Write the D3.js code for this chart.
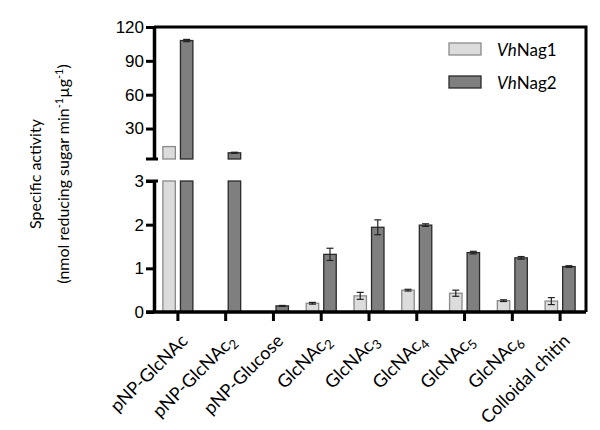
<!DOCTYPE html>
<html>
<head>
<meta charset="utf-8">
<script src="https://cdn.jsdelivr.net/npm/d3@7"></script>
<style>
  body { margin: 0; background: #fff; }
  .tick text { font-family: "Liberation Sans", Arial, sans-serif; }
</style>
</head>
<body>
<div class="chart"></div>
<script>
// substrates, with subscript part split out
var substrates = ["pNP-GlcNAc", "pNP-GlcNAc2", "pNP-Glucose", "GlcNAc2", "GlcNAc3",
                  "GlcNAc4", "GlcNAc5", "GlcNAc6", "Colloidal chitin"];
var labelMain = ["pNP-GlcNAc", "pNP-GlcNAc", "pNP-Glucose", "GlcNAc", "GlcNAc",
                 "GlcNAc", "GlcNAc", "GlcNAc", "Colloidal chitin"];
var labelSub = ["", "2", "", "2", "3", "4", "5", "6", ""];

var series = ["VhNag1", "VhNag2"];
var nag1 = [14, 0, 0, 0.2, 0.37, 0.5, 0.43, 0.26, 0.25];
var nag1Err = [0, 0, 0, 0.02, 0.08, 0.02, 0.07, 0.02, 0.08];
var nag2 = [108, 8.5, 0.14, 1.32, 1.94, 1.99, 1.36, 1.24, 1.04];
var nag2Err = [1, 0.5, 0.01, 0.14, 0.17, 0.03, 0.03, 0.03, 0.02];

var upperTicks = [30, 60, 90, 120];
var lowerTicks = [0, 1, 2, 3];

var width = 600, height = 430;
var plotLeft = 154, plotRight = 586, plotTop = 27;

var data = substrates.map(function(s, i) {
    return {name: s, values: [
        {key: "VhNag1", v: nag1[i], e: nag1Err[i]},
        {key: "VhNag2", v: nag2[i], e: nag2Err[i]}
    ]};
});

var x = d3.scaleBand()
    .domain(substrates)
    .range([plotLeft, 584]);

var x1 = d3.scaleBand()
    .domain(series)
    .range([-15, 15])
    .paddingInner(0.29);

var yUp = d3.scaleLinear().domain([3, 120]).range([159, plotTop]);
var yLo = d3.scaleLinear().domain([0, 3]).range([312, 181]);

var fill = d3.scaleOrdinal().domain(series).range(["#dcdcdc", "#7f7f7f"]);
var stroke = d3.scaleOrdinal().domain(series).range(["#8a8a8a", "#2a2a2a"]);

var svg = d3.select(".chart").append("svg")
    .attr("width", width)
    .attr("height", height);

var groups = svg.append("g").selectAll("g")
    .data(data)
    .enter().append("g")
    .attr("transform", function(d) { return "translate(" + (x(d.name) + x.bandwidth() / 2) + ",0)"; });

var bars = groups.selectAll("g")
    .data(function(d) { return d.values; })
    .enter().append("g");

// lower panel part
bars.filter(function(d) { return d.v > 0; })
    .append("rect")
    .attr("x", function(d) { return x1(d.key); })
    .attr("width", x1.bandwidth())
    .attr("y", function(d) { return yLo(Math.min(d.v, 3)); })
    .attr("height", function(d) { return yLo(0) - yLo(Math.min(d.v, 3)); })
    .attr("fill", function(d) { return fill(d.key); })
    .attr("stroke", function(d) { return stroke(d.key); })
    .attr("stroke-width", 1.3);

// upper panel part
bars.filter(function(d) { return d.v > 3; })
    .append("rect")
    .attr("x", function(d) { return x1(d.key); })
    .attr("width", x1.bandwidth())
    .attr("y", function(d) { return yUp(d.v); })
    .attr("height", function(d) { return yUp(3) - yUp(d.v); })
    .attr("fill", function(d) { return fill(d.key); })
    .attr("stroke", function(d) { return stroke(d.key); })
    .attr("stroke-width", 1.3);

// error bars
function yOf(v) { return v > 3 ? yUp(v) : yLo(v); }
var eb = bars.filter(function(d) { return d.e > 0; }).append("g")
    .attr("stroke", "#222")
    .attr("stroke-width", 1.2);
eb.append("line")
    .attr("x1", function(d) { return x1(d.key) + x1.bandwidth() / 2; })
    .attr("x2", function(d) { return x1(d.key) + x1.bandwidth() / 2; })
    .attr("y1", function(d) { return yOf(d.v - d.e); })
    .attr("y2", function(d) { return yOf(d.v + d.e); });
eb.selectAll("line.cap")
    .data(function(d) { return [{d: d, v: d.v - d.e}, {d: d, v: d.v + d.e}]; })
    .enter().append("line")
    .attr("class", "cap")
    .attr("x1", function(c) { return x1(c.d.key) + x1.bandwidth() / 2 - 3.5; })
    .attr("x2", function(c) { return x1(c.d.key) + x1.bandwidth() / 2 + 3.5; })
    .attr("y1", function(c) { return yOf(c.v); })
    .attr("y2", function(c) { return yOf(c.v); });

// frame: top and right
svg.append("path")
    .attr("d", "M" + plotLeft + "," + plotTop + "H" + plotRight + "V312")
    .attr("fill", "none")
    .attr("stroke", "#000")
    .attr("stroke-width", 3);

// upper y axis
var axUp = svg.append("g")
    .attr("transform", "translate(" + plotLeft + ",0)")
    .call(d3.axisLeft(yUp).tickValues(upperTicks).tickFormat(d3.format("d"))
        .tickSize(8).tickSizeOuter(0).tickPadding(2));
axUp.select(".domain").attr("stroke-width", 3.5);
axUp.selectAll(".tick line").attr("stroke-width", 3);
axUp.selectAll(".tick text").attr("font-size", 17).attr("fill", "#000");
axUp.append("line").attr("x1", -8).attr("x2", 4).attr("y1", yUp(3)).attr("y2", yUp(3))
    .attr("stroke", "#000").attr("stroke-width", 3);

// lower y axis
var axLo = svg.append("g")
    .attr("transform", "translate(" + plotLeft + ",0)")
    .call(d3.axisLeft(yLo).tickValues(lowerTicks).tickFormat(d3.format("d"))
        .tickSize(8).tickSizeOuter(0).tickPadding(2));
axLo.select(".domain").attr("stroke-width", 3.5);
axLo.selectAll(".tick line").attr("stroke-width", 3);
axLo.selectAll(".tick text").attr("font-size", 17).attr("fill", "#000");
axLo.append("line").attr("x1", -8).attr("x2", 4).attr("y1", yLo(3)).attr("y2", yLo(3))
    .attr("stroke", "#000").attr("stroke-width", 3);

// x axis
var axX = svg.append("g")
    .attr("transform", "translate(0,312)")
    .call(d3.axisBottom(x).tickSize(9).tickSizeOuter(0).tickFormat(""));
axX.select(".domain").attr("stroke-width", 3.5).attr("d", "M" + (plotLeft - 8) + ",0H" + plotRight);
axX.selectAll(".tick line").attr("stroke-width", 3);

// x labels
var xl = svg.append("g")
    .attr("font-family", "Lato, 'Open Sans', sans-serif")
    .attr("font-size", 18)
    .attr("text-anchor", "end")
    .selectAll("text")
    .data(substrates)
    .enter().append("text")
    .attr("transform", function(d) { return "translate(" + (x(d) + x.bandwidth() / 2 + 11) + ",342) rotate(-45)"; });
xl.append("tspan").text(function(d, i) { return labelMain[i]; });
xl.append("tspan")
    .attr("font-size", 13)
    .attr("dy", 4)
    .text(function(d, i) { return labelSub[i]; });

// y title
var yt = svg.append("text")
    .attr("font-family", "Lato, 'Open Sans', sans-serif")
    .attr("font-size", 16)
    .attr("text-anchor", "middle")
    .attr("transform", "translate(41,174) rotate(-90)");
yt.append("tspan").attr("x", 0).attr("y", 0).text("Specific activity");
var yt2 = yt.append("tspan").attr("x", 0).attr("y", 28);
yt2.append("tspan").text("(nmol reducing sugar min");
yt2.append("tspan").attr("font-size", 11).attr("dy", -6).text("-1");
yt2.append("tspan").attr("dy", 6).text("\u00b5g");
yt2.append("tspan").attr("font-size", 11).attr("dy", -6).text("-1");
yt2.append("tspan").attr("dy", 6).text(")");

// legend
var legend = svg.append("g")
    .attr("font-family", "Lato, 'Open Sans', sans-serif")
    .attr("font-size", 17)
    .selectAll("g")
    .data(series)
    .enter().append("g")
    .attr("transform", function(d, i) { return "translate(449," + (43 + i * 33) + ")"; });
legend.append("rect")
    .attr("width", 32)
    .attr("height", 12)
    .attr("fill", fill)
    .attr("stroke", stroke)
    .attr("stroke-width", 1.3);
var lt = legend.append("text")
    .attr("x", 48)
    .attr("y", 13);
lt.append("tspan").attr("font-style", "italic").text("Vh");
lt.append("tspan").text(function(d) { return d.slice(2); });
</script>
</body>
</html>
